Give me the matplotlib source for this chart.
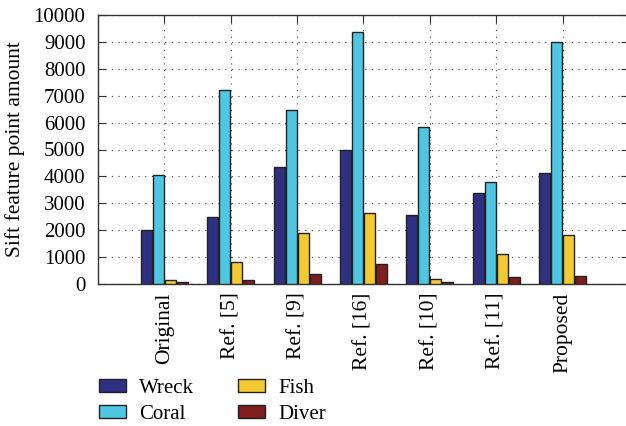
import matplotlib
matplotlib.use("Agg")
import matplotlib.pyplot as plt
import numpy as np

categories = ["Original", "Ref. [5]", "Ref. [9]", "Ref. [16]", "Ref. [10]", "Ref. [11]", "Proposed"]
wreck = [2000, 2500, 4350, 5000, 2550, 3400, 4120]
coral = [4050, 7200, 6450, 9350, 5830, 3780, 8980]
fish = [150, 800, 1900, 2650, 200, 1120, 1830]
diver = [80, 150, 370, 730, 80, 260, 290]
series_names = ["Wreck", "Coral", "Fish", "Diver"]
colors = ["#2e3182", "#4fc6e2", "#f5c932", "#7f1d1f"]

plt.rcParams['font.family'] = ['Liberation Serif', 'DejaVu Serif']

fig = plt.figure(figsize=(6.26, 4.26), dpi=100)
ax = fig.add_axes([98/626, 1-284/426, 531/626, (284-15)/426])

x = np.arange(1, len(categories) + 1)
offsets = [-0.27, -0.09, 0.09, 0.27]
width = 0.165
handles = []
for vals, off, col, name in zip([wreck, coral, fish, diver], offsets, colors, series_names):
    h = ax.bar(x + off, vals, width=width, color=col, edgecolor="#222222", linewidth=1.0, label=name, zorder=3)
    handles.append(h)

ax.set_xlim(0, 8)
ax.set_ylim(0, 10000)
ax.set_yticks(np.arange(0, 10001, 1000))
ax.set_xticks(x)
ax.set_xticklabels(categories, rotation=90, fontsize=15.5)
ax.tick_params(axis='y', labelsize=15, pad=9)
ax.tick_params(direction='in', top=True, right=True, length=6, color="#333333")
ax.tick_params(axis='x', pad=6)
ax.grid(True, linestyle=(0, (1, 5)), color="#444444", linewidth=0.8, zorder=0)
ax.set_axisbelow(True)
for s in ax.spines.values():
    s.set_color("#333333")
    s.set_linewidth(1.0)
ax.set_ylabel("Sift feature point amount", fontsize=15.5, labelpad=6)

fig.legend(handles, series_names, ncol=2,
           loc="upper left", bbox_to_anchor=(84/626, 1-364/426), frameon=False,
           fontsize=15, handlelength=1.3, handleheight=0.6, handletextpad=0.65,
           columnspacing=2.1, labelspacing=0.35, borderpad=0.2)

fig.savefig("out.png", dpi=100)
